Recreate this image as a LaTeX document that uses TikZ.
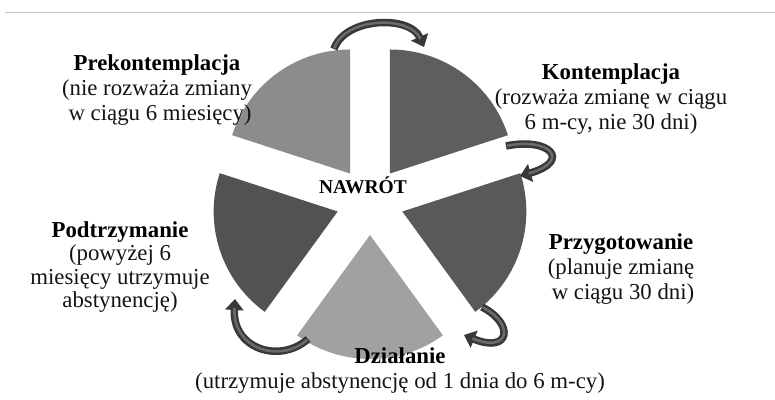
\documentclass[tikz,border=0pt]{standalone}
\usepackage{fontspec}
\setmainfont{Liberation Serif}
\usetikzlibrary{arrows.meta,calc}
\definecolor{cPre}{gray}{0.55}
\definecolor{cKon}{gray}{0.37}
\definecolor{cPrz}{gray}{0.35}
\definecolor{cDzi}{gray}{0.63}
\definecolor{cPod}{gray}{0.32}
\definecolor{cArr}{gray}{0.22}
\definecolor{cArrIn}{gray}{0.42}
\definecolor{cTxt}{gray}{0.08}
\newcommand{\pieslice}[3]{%
  \fill[#1] ($(C)+({(#2+#3)/2}:34pt)$) coordinate (tmp)
    -- ($(tmp)+(#2:124pt)$) arc[start angle=#2, end angle=#3, radius=124pt] -- cycle;}
\tikzset{
  stage/.style={align=center, text=cTxt, font=\fontsize{22.8}{24.8}\selectfont, inner sep=0pt},
  cyclearrow/.style={draw=cArr, line width=7.5pt, -{Triangle[length=11pt,width=18pt]}},
  cyclehi/.style={draw=cArrIn, line width=2.5pt, shorten >=9pt, shorten <=1pt},
}
\begin{document}
\begin{tikzpicture}[x=1pt,y=1pt]
\useasboundingbox (0,0) rectangle (775,399);
\draw[gray!45, line width=1.5pt] (5,386.5) -- (775,386.5);
\coordinate (C) at (370,198);
\pieslice{cKon}{18}{90}
\pieslice{cPre}{90}{162}
\pieslice{cPod}{162}{234}
\pieslice{cDzi}{234}{306}
\pieslice{cPrz}{306}{378}

\node[stage] (pre) at (157,309) {\textbf{\textcolor{black}{Prekontemplacja}}\\(nie rozważa zmiany\\\hspace*{6pt}w ciągu 6 miesięcy)};
\node[stage] (kon) at (611,300) {\textbf{\textcolor{black}{Kontemplacja}}\\(rozważa zmianę w ciągu\\6 m-cy, nie 30 dni)};
\node[stage] (prz) at (621,130) {\textbf{\textcolor{black}{Przygotowanie}}\\(planuje zmianę\\\hspace*{4pt}w ciągu 30 dni)};
\node[stage] (dzi) at (400,28.5) {\textbf{\textcolor{black}{Działanie}}\\(utrzymuje abstynencję od 1 dnia do 6 m-cy)};
\node[stage, font=\fontsize{22.8}{23.4}\selectfont] (pod) at (120,132) {\textbf{\textcolor{black}{Podtrzymanie}}\\(powyżej 6\\miesięcy utrzymuje\\abstynencję)};
\node[inner sep=0pt, font=\fontsize{19.5}{22}\selectfont\bfseries] (naw) at (363,214) {NAWRÓT};

\coordinate (a1s) at (334,350);
\coordinate (a1e) at (424,352);
\coordinate (a2s) at (506,253);
\coordinate (a2e) at (520,223);
\coordinate (a3s) at (482,92);
\coordinate (a3e) at (464,64);
\coordinate (a4s) at (308,60);
\coordinate (a4e) at (235,100);
\draw[cyclearrow] (a1s) .. controls (345,382) and (410,384) .. (a1e);
\draw[cyclehi] (a1s) .. controls (345,382) and (410,384) .. (a1e);
\draw[cyclearrow] (a2s) .. controls (550,262) and (572,238) .. (a2e);
\draw[cyclehi] (a2s) .. controls (550,262) and (572,238) .. (a2e);
\draw[cyclearrow] (a3s) .. controls (515,75) and (510,45) .. (a3e);
\draw[cyclehi] (a3s) .. controls (515,75) and (510,45) .. (a3e);
\draw[cyclearrow] (a4s) .. controls (280,35) and (232,50) .. (a4e);
\draw[cyclehi] (a4s) .. controls (280,35) and (232,50) .. (a4e);
\end{tikzpicture}
\end{document}
